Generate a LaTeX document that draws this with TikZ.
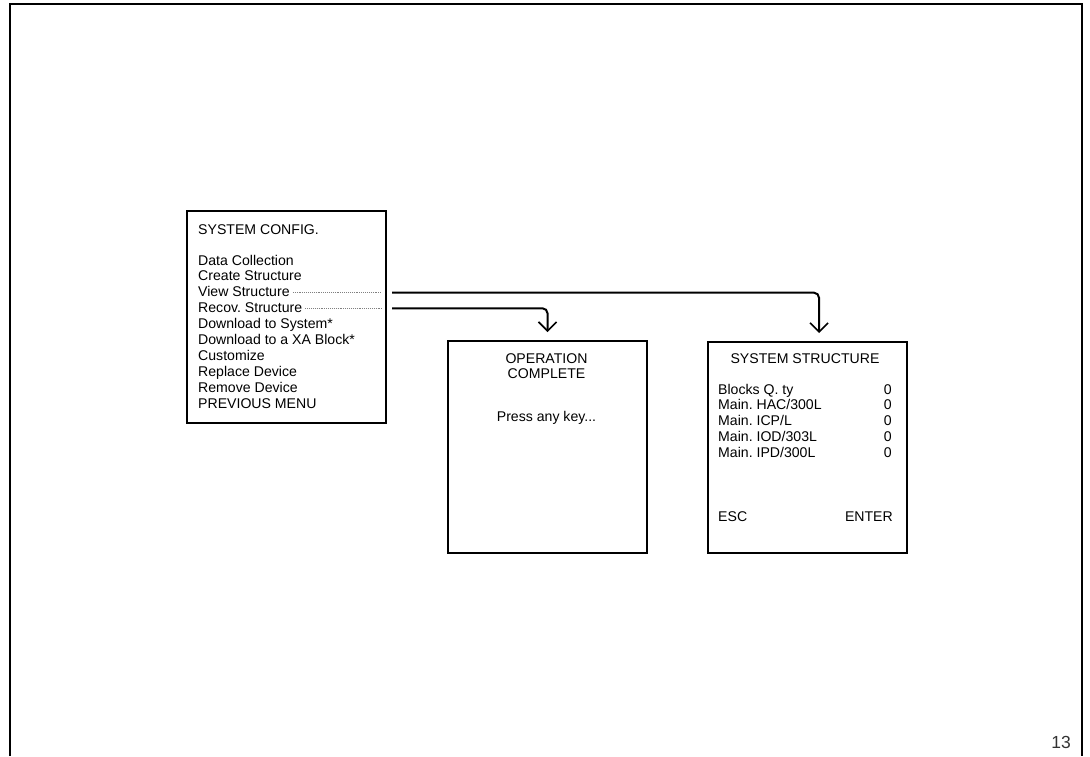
\documentclass[tikz,border=0pt]{standalone}
\usepackage{fontspec}
\setmainfont{Liberation Sans}
\usetikzlibrary{arrows.meta}
\frenchspacing
\begin{document}
\begin{tikzpicture}[x=1pt,y=-1pt,
  screen/.style={draw,line width=2pt,inner sep=0pt,anchor=north west},
  txt/.style={inner sep=0pt,font=\fontsize{14.1}{15.9}\selectfont},
  leader/.style={line width=0.8pt,gray,dash pattern=on 0.8pt off 1.1pt},
  arr/.style={line width=2pt,rounded corners=5pt,shorten >=8pt,
    -{Straight Barb[length=9pt,width=18pt,line width=1.6pt]}},
  pageframe/.style={line width=1.6pt}]
\useasboundingbox (0,0) rectangle (1090,756);
% page frame
\coordinate (f1) at (10,756);
\coordinate (f2) at (10,4);
\coordinate (f3) at (1082,4);
\coordinate (f4) at (1082,756);
\draw[pageframe] (f1) -- (f2) -- (f3) -- (f4);
\node[inner sep=0pt,anchor=base east,font=\fontsize{17.5}{19}\selectfont,text=black!80] (pg) at (1071,748) {13};

% screens
\node[screen,minimum width=199pt,minimum height=212pt] (menu) at (186,210) {};
\node[screen,minimum width=199pt,minimum height=212pt] (op) at (447,340) {};
\node[screen,minimum width=199pt,minimum height=211pt] (ss) at (707,341) {};

% menu texts
\node[txt,anchor=base west] (m0) at (198,234.3) {SYSTEM CONFIG.};
\node[txt,anchor=base west] (m1) at (198,265.0) {Data Collection};
\node[txt,anchor=base west] (m2) at (198,280.9) {Create Structure};
\node[txt,anchor=base west] (m3) at (198,296.8) {View Structure};
\node[txt,anchor=base west] (m4) at (198,312.7) {Recov. Structure};
\node[txt,anchor=base west] (m5) at (198,328.6) {Download to System*};
\node[txt,anchor=base west] (m6) at (198,344.5) {Download to a XA Block*};
\node[txt,anchor=base west] (m7) at (198,360.4) {Customize};
\node[txt,anchor=base west] (m8) at (198,376.3) {Replace Device};
\node[txt,anchor=base west] (m9) at (198,392.2) {Remove Device};
\node[txt,anchor=base west] (m10) at (198,408.1) {PREVIOUS MENU};

% leaders
\coordinate (vL) at (382,292.8);
\coordinate (rL) at (382,308.7);
\draw[leader] ([shift={(3,-4)}]m3.base east) -- (vL);
\draw[leader] ([shift={(3,-4)}]m4.base east) -- (rL);

% operation complete texts
\node[txt,anchor=base] (o1) at (546.5,363.5) {OPERATION};
\node[txt,anchor=base] (o2) at (546.5,378.5) {COMPLETE};
\node[txt,anchor=base] (o3) at (546.5,421.7) {Press any key...};

% system structure texts
\node[txt,anchor=base] (s0) at (805,363) {SYSTEM STRUCTURE};
\node[txt,anchor=base west] (s1) at (718,394.0) {Blocks Q. ty};
\node[txt,anchor=base west] (s2) at (718,409.8) {Main. HAC/300L};
\node[txt,anchor=base west] (s3) at (718,425.6) {Main. ICP/L};
\node[txt,anchor=base west] (s4) at (718,441.4) {Main. IOD/303L};
\node[txt,anchor=base west] (s5) at (718,457.2) {Main. IPD/300L};
\node[txt,anchor=base east] (z1) at (892,394.0) {0};
\node[txt,anchor=base east] (z2) at (892,409.8) {0};
\node[txt,anchor=base east] (z3) at (892,425.6) {0};
\node[txt,anchor=base east] (z4) at (892,441.4) {0};
\node[txt,anchor=base east] (z5) at (892,457.2) {0};
\node[txt,anchor=base west] (esc) at (718,521.7) {ESC};
\node[txt,anchor=base east] (ent) at (893,521.7) {ENTER};

% connectors
\coordinate (vA) at (392,292.7);
\coordinate (rA) at (392,308.3);
\draw[arr] (vA) -| ([xshift=11.5pt]ss.north);
\draw[arr] (rA) -| (op.north);
\end{tikzpicture}
\end{document}
